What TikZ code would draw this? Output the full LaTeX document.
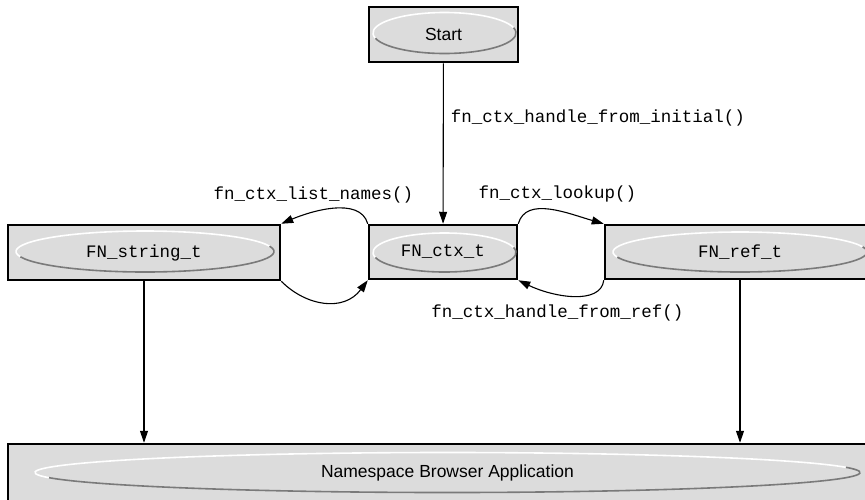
\documentclass[tikz,border=0pt]{standalone}
\usepackage{fontspec}
\setmainfont{Liberation Sans}
\newfontfamily\monof{Liberation Mono}
\usetikzlibrary{arrows.meta,calc}
\definecolor{boxgray}{HTML}{DCDCDC}
\definecolor{shadegray}{HTML}{7A7A7A}
\tikzset{
  box/.style={draw=black, fill=boxgray, line width=2.5pt, rectangle, inner sep=0pt,
    font=\monof\fontsize{17.5}{21}\selectfont},
  sansbox/.style={box, font=\fontsize{17.5}{21}\selectfont},
  arr/.style={draw=black, line width=1.1pt, -{Triangle[length=12pt,width=8pt]}},
  lbl/.style={font=\monof\fontsize{17.5}{21}\selectfont, inner sep=0pt},
  hiarc/.style={draw=white, line width=1.6pt},
  loarc/.style={draw=shadegray, line width=1.6pt},
}
\newcommand\embossring[4]{%
  \draw[hiarc] ($(#1,#2)+(15:#3pt and #4pt)$) arc[start angle=15,end angle=195,x radius=#3pt,y radius=#4pt];
  \draw[loarc] ($(#1,#2)+(195:#3pt and #4pt)$) arc[start angle=195,end angle=375,x radius=#3pt,y radius=#4pt];
}
\begin{document}
\begin{tikzpicture}[x=1pt,y=-1pt]
\fill[white] (0,0) rectangle (865,499);
\useasboundingbox (0,0) rectangle (865,499);
\clip (0,0) rectangle (865,499);

% boxes
\node[sansbox, minimum width=149pt, minimum height=55pt] (start) at (443.5,34.5) {Start};
\embossring{444.5}{33}{71.5}{20.5}

\node[box, minimum width=148pt, minimum height=54pt] (ctx) at (443,252) {FN\_ctx\_t};
\embossring{444.5}{252.5}{71.5}{19.5}

\node[box, minimum width=272pt, minimum height=55pt] (str) at (144,252.5) {FN\_string\_t};
\embossring{145}{251.5}{129}{20.5}

\node[box, minimum width=270pt, minimum height=54pt] (ref) at (740,252) {FN\_ref\_t};
\embossring{740}{252}{127}{20}

\node[sansbox, minimum width=879pt, minimum height=57pt] (app) at (447.5,472.5) {Namespace Browser Application};
\embossring{447.5}{472.5}{412.5}{20}

% connectors
\draw[arr] (start) -- node[lbl, pos=0.34, anchor=west, xshift=7pt] (l1) {fn\_ctx\_handle\_from\_initial()} (ctx);

\draw[arr] (ctx.north west) .. controls +(-8,-28) and +(28,-12) .. node[lbl, midway, xshift=-18.5pt, yshift=14pt] (l2) {fn\_ctx\_list\_names()} (str.north east);

\draw[arr] (str.south east) .. controls +(25,25) and +(-24,32) .. (ctx.south west);

\draw[arr] (ctx.north east) .. controls +(8,-28) and +(-35,-10) .. node[lbl, midway, xshift=6.5pt, yshift=16pt] (l3) {fn\_ctx\_lookup()} (ref.north west);

\draw[arr] (ref.south west) .. controls +(-3,25) and +(35,17) .. node[lbl, midway, xshift=-15.5pt, yshift=-17pt] (l4) {fn\_ctx\_handle\_from\_ref()} (ctx.south east);

\draw[arr] (str.south) -- (str.south |- app.north);
\draw[arr] (ref.south) -- (ref.south |- app.north);
\end{tikzpicture}
\end{document}
